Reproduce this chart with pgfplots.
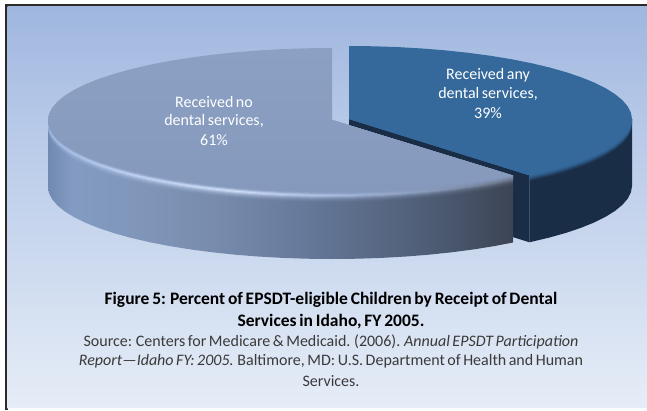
\documentclass[border=0pt]{standalone}
\usepackage{fontspec}
\setmainfont[WordSpace=0.7]{Carlito}
\usepackage{pgfplots}
\usepackage{pgfplotstable}
\pgfplotsset{compat=1.18}
% shares: received any dental services 39%, received no dental services 61%
% angles below are measured clockwise from the top of the pie; 39% of 360 = 140.4
\pgfplotstableread[row sep=\\]{a r d\\
0 0 0\\0 1 0\\5 1 0\\10 1 0\\15 1 0\\20 1 0\\25 1 0\\30 1 0\\35 1 0\\40 1 0\\45 1 0\\50 1 0\\55 1 0\\60 1 0\\65 1 0\\70 1 0\\75 1 0\\80 1 0\\85 1 0\\90 1 0\\95 1 0\\100 1 0\\105 1 0\\110 1 0\\115 1 0\\120 1 0\\125 1 0\\130 1 0\\135 1 0\\140 1 0\\140.4 1 0\\
}\Rtop
\pgfplotstableread[row sep=\\]{a r d\\
0 0 0\\90 1 0\\90 1 1\\95 1 1\\100 1 1\\105 1 1\\110 1 1\\115 1 1\\120 1 1\\125 1 1\\130 1 1\\135 1 1\\140 1 1\\140.4 1 1\\140.4 1 0\\
}\Rrim
\pgfplotstableread[row sep=\\]{a r d\\
0 0 0\\140.4 1 0\\140.4 1 1\\0 0 1\\
}\Rcut
\pgfplotstableread[row sep=\\]{a r d\\
0 0 0\\140.4 1 0\\145 1 0\\150 1 0\\155 1 0\\160 1 0\\165 1 0\\170 1 0\\175 1 0\\180 1 0\\185 1 0\\190 1 0\\195 1 0\\200 1 0\\205 1 0\\210 1 0\\215 1 0\\220 1 0\\225 1 0\\230 1 0\\235 1 0\\240 1 0\\245 1 0\\250 1 0\\255 1 0\\260 1 0\\265 1 0\\270 1 0\\275 1 0\\280 1 0\\285 1 0\\290 1 0\\295 1 0\\300 1 0\\305 1 0\\310 1 0\\315 1 0\\320 1 0\\325 1 0\\330 1 0\\335 1 0\\340 1 0\\345 1 0\\350 1 0\\355 1 0\\360 1 0\\
}\Ltop
\pgfplotstableread[row sep=\\]{a r d\\
0 0 0\\140.4 1 0\\140.4 1 1\\145 1 1\\150 1 1\\155 1 1\\160 1 1\\165 1 1\\170 1 1\\175 1 1\\180 1 1\\185 1 1\\190 1 1\\195 1 1\\200 1 1\\205 1 1\\210 1 1\\215 1 1\\220 1 1\\225 1 1\\230 1 1\\235 1 1\\240 1 1\\245 1 1\\250 1 1\\255 1 1\\260 1 1\\265 1 1\\270 1 1\\270 1 0\\
}\Lrim
\definecolor{bgA}{HTML}{9FB6DE}
\definecolor{bgB}{HTML}{B4C7E7}
\definecolor{bgC}{HTML}{CAD8EE}
\definecolor{bgD}{HTML}{E6EDF7}
\definecolor{sA}{HTML}{7089AF}
\definecolor{sB}{HTML}{839BC2}
\definecolor{sC}{HTML}{8096B9}
\definecolor{sD}{HTML}{788CAD}
\definecolor{sE}{HTML}{66799A}
\definecolor{sF}{HTML}{505F78}
\definecolor{sG}{HTML}{3C4454}
\definecolor{hA}{HTML}{A4BDE4}
\definecolor{hB}{HTML}{C0D4F6}
\definecolor{hC}{HTML}{D0E0FA}
\definecolor{hD}{HTML}{ABBFE3}
\definecolor{hE}{HTML}{8EA0C0}
\definecolor{hF}{HTML}{707B90}
\definecolor{ltop}{HTML}{8599BD}
\definecolor{ltopB}{HTML}{8CA0C3}
\definecolor{rtop}{HTML}{35699C}
\definecolor{rdark}{HTML}{1A2D47}
\definecolor{frameC}{HTML}{2A2A2A}
\definecolor{srcC}{HTML}{3A3A3A}
\pgfdeclareverticalshading{bgshade}{100bp}{color(0bp)=(bgD);color(25bp)=(bgD);color(45bp)=(bgC);color(62bp)=(bgB);color(75bp)=(bgA);color(100bp)=(bgA)}
\pgfdeclarehorizontalshading{sideshade}{100bp}{color(0bp)=(sA);color(25bp)=(sA);color(27.5bp)=(sB);color(35bp)=(sC);color(42.5bp)=(sD);color(52.5bp)=(sE);color(65bp)=(sF);color(75bp)=(sG);color(100bp)=(sG)}
\pgfdeclarehorizontalshading{ridgeshade}{100bp}{color(0bp)=(hA);color(25bp)=(hA);color(34bp)=(hB);color(45bp)=(hC);color(55bp)=(hD);color(65bp)=(hE);color(75bp)=(hF);color(100bp)=(hF)}
\newcommand\Lplot[3]{\addplot[forget plot,draw=none,#1] table[x expr=332+284*\thisrow{r}*sin(\thisrow{a}),y expr=120-72*\thisrow{r}*cos(\thisrow{a})+#2*\thisrow{d}]{#3};}
\newcommand\Rplot[3]{\addplot[forget plot,draw=none,#1] table[x expr=349+283*\thisrow{r}*sin(\thisrow{a}),y expr=119-73*\thisrow{r}*cos(\thisrow{a})+#2*\thisrow{d}]{#3};}
\begin{document}
\begin{tikzpicture}[x=1pt,y=1pt]
\fill[white] (0,0) rectangle (647,410);
\fill[frameC] (5,0) rectangle (647,406);
\shade[shading=bgshade] (7.5,2) rectangle (647,403);
\fill[white!85!bgD] (7.5,0) rectangle (647,2);
\begin{axis}[at={(0,0)},anchor=south west,width=647pt,height=410pt,scale only axis,
  xmin=0,xmax=647,ymin=0,ymax=410,y dir=reverse,hide axis,clip=false]
% right slice, blue
\Rplot{fill=rdark}{67}{\Rcut}
\Rplot{fill=rdark}{67}{\Rrim}
\Rplot{fill=rtop,fill opacity=.15}{6}{\Rrim}
\Rplot{fill=rtop,fill opacity=.2}{5}{\Rrim}
\Rplot{fill=rtop,fill opacity=.3}{4}{\Rrim}
\Rplot{fill=rtop,fill opacity=.4}{3}{\Rrim}
\Rplot{fill=rtop,fill opacity=.5}{2}{\Rrim}
\Rplot{fill=rtop,fill opacity=.7}{1}{\Rrim}
\Rplot{fill=rtop}{0}{\Rtop}
% left slice, grey-blue
\Lplot{shade,shading=sideshade}{67}{\Lrim}
\Lplot{shade,shading=ridgeshade,fill opacity=.06}{10}{\Lrim}
\Lplot{shade,shading=ridgeshade,fill opacity=.08}{9}{\Lrim}
\Lplot{shade,shading=ridgeshade,fill opacity=.12}{8}{\Lrim}
\Lplot{shade,shading=ridgeshade,fill opacity=.18}{7}{\Lrim}
\Lplot{shade,shading=ridgeshade,fill opacity=.3}{6}{\Lrim}
\Lplot{shade,shading=ridgeshade,fill opacity=.55}{5}{\Lrim}
\Lplot{shade,shading=ridgeshade,fill opacity=.9}{4}{\Lrim}
\Lplot{fill=ltop,fill opacity=.25}{3}{\Lrim}
\Lplot{fill=ltop,fill opacity=.5}{2}{\Lrim}
\Lplot{fill=ltop,fill opacity=.7}{1}{\Lrim}
\Lplot{top color=ltopB,bottom color=ltop}{0}{\Ltop}
% labels
\begin{scope}[every node/.style={white,font=\fontsize{16}{19}\selectfont,inner sep=0pt,anchor=center}]
\node at (axis cs:488,75) {Received any};
\node at (axis cs:488,94) {dental services,};
\node at (axis cs:488,113) {39\%};
\node at (axis cs:214,102) {Received no};
\node at (axis cs:214,121) {dental services,};
\node at (axis cs:214,140) {61\%};
\end{scope}
\begin{scope}[every node/.style={inner sep=0pt,anchor=center}]
\node[black,font=\fontsize{17.5}{21}\selectfont\bfseries] at (axis cs:331,300) {Figure 5: Percent of EPSDT-eligible Children by Receipt of Dental};
\node[black,font=\fontsize{17.5}{21}\selectfont\bfseries] at (axis cs:331,322) {Services in Idaho, FY 2005.};
\node[srcC,font=\fontsize{16}{19}\selectfont] at (axis cs:331,342) {Source: Centers for Medicare \& Medicaid. (2006). \textit{Annual EPSDT Participation}};
\node[srcC,font=\fontsize{16}{19}\selectfont] at (axis cs:331,361) {\textit{Report---Idaho FY: 2005.} Baltimore, MD: U.S. Department of Health and Human};
\node[srcC,font=\fontsize{16}{19}\selectfont] at (axis cs:331,381) {Services.};
\end{scope}
\end{axis}
\end{tikzpicture}
\end{document}
